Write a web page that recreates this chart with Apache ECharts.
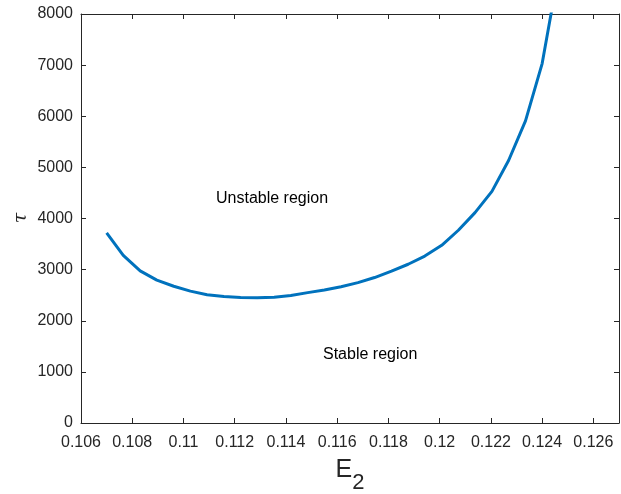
<!DOCTYPE html>
<html>
<head>
<meta charset="utf-8">
<script src="https://cdn.jsdelivr.net/npm/echarts@6/dist/echarts.min.js"></script>
<style>
html,body{margin:0;padding:0;background:#fff;}
#chart{width:621px;height:494px;}
</style>
</head>
<body>
<div id="chart"></div>
<script>
// Data
var e2Values = [0.10700, 0.10765, 0.10831, 0.10896, 0.10962, 0.11027, 0.11092, 0.11158,
  0.11223, 0.11288, 0.11354, 0.11419, 0.11485, 0.11550, 0.11615, 0.11681, 0.11746,
  0.11812, 0.11877, 0.11942, 0.12008, 0.12073, 0.12138, 0.12204, 0.12269, 0.12335,
  0.12400, 0.12465];
var tauValues = [3720, 3280, 2975, 2795, 2675, 2580, 2510, 2475,
  2455, 2450, 2460, 2495, 2550, 2600, 2665, 2745, 2845,
  2970, 3105, 3265, 3475, 3770, 4115, 4530, 5135, 5910,
  7030, 8850];
var xTicks = [0.106, 0.108, 0.11, 0.112, 0.114, 0.116, 0.118, 0.12, 0.122, 0.124, 0.126];
var yTicks = [0, 1000, 2000, 3000, 4000, 5000, 6000, 7000, 8000];
var yAxisTitle = 'τ';
var annotations = [
  {text: 'Unstable region'},
  {text: 'Stable region'}
];

var axisColor = '#262626';
var fontFam = '"Liberation Sans", Arial, sans-serif';
var points = e2Values.map(function (x, i) { return [x, tauValues[i]]; });

var chart = echarts.init(document.getElementById('chart'), null, {renderer: 'canvas'});
var baseX = {
  type: 'value', min: xTicks[0], max: 0.127, interval: 0.002,
  splitLine: {show: false},
  axisLine: {show: true, onZero: false, lineStyle: {color: axisColor, width: 1}},
  axisTick: {show: true, inside: true, length: 5, lineStyle: {color: axisColor}}
};
var baseY = {
  type: 'value', min: yTicks[0], max: yTicks[yTicks.length - 1], interval: 1000,
  splitLine: {show: false},
  axisLine: {show: true, onZero: false, lineStyle: {color: axisColor, width: 1}},
  axisTick: {show: true, inside: true, length: 5, lineStyle: {color: axisColor}}
};
chart.setOption({
  animation: false,
  grid: {left: 81, top: 14, right: 2, bottom: 71, containLabel: false, outerBoundsMode: 'none'},
  xAxis: [
    Object.assign({}, baseX, {
      position: 'bottom',
      name: '{e|E}{s|2}',
      nameLocation: 'middle',
      nameGap: 35,
      nameMoveOverlap: false,
      nameTextStyle: {
        rich: {
          e: {fontSize: 25, fontFamily: fontFam, color: axisColor, verticalAlign: 'top', lineHeight: 26},
          s: {fontSize: 22, fontFamily: fontFam, color: axisColor, verticalAlign: 'bottom', lineHeight: 36}
        }
      },
      axisLabel: {
        show: true, margin: 12, fontSize: 16, fontFamily: fontFam, color: axisColor,
        showMaxLabel: false,
        formatter: function (v) { return String(+v.toFixed(3)); }
      }
    }),
    Object.assign({}, baseX, {position: 'top', axisLabel: {show: false}})
  ],
  yAxis: [
    Object.assign({}, baseY, {
      position: 'left',
      axisLabel: {
        show: true, margin: 8, fontSize: 16, fontFamily: fontFam, color: axisColor,
        formatter: function (v) { return String(v); }
      }
    }),
    Object.assign({}, baseY, {position: 'right', axisLabel: {show: false}})
  ],
  graphic: [
    {type: 'text', x: 21, y: 218, rotation: Math.PI / 2,
      style: {text: yAxisTitle, align: 'center', verticalAlign: 'middle', font: 'italic 19px "DejaVu Serif", serif', fill: axisColor}},
    {type: 'text', left: 216, top: 191, style: {text: annotations[0].text, font: '16px ' + fontFam, fill: '#000'}},
    {type: 'text', left: 323, top: 347, style: {text: annotations[1].text, font: '16px ' + fontFam, fill: '#000'}}
  ],
  series: [{
    type: 'line',
    data: points,
    xAxisIndex: 0, yAxisIndex: 0,
    showSymbol: false,
    symbol: 'none',
    clip: true,
    lineStyle: {color: '#0072BD', width: 3},
    smooth: false
  }]
});
</script>
</body>
</html>
